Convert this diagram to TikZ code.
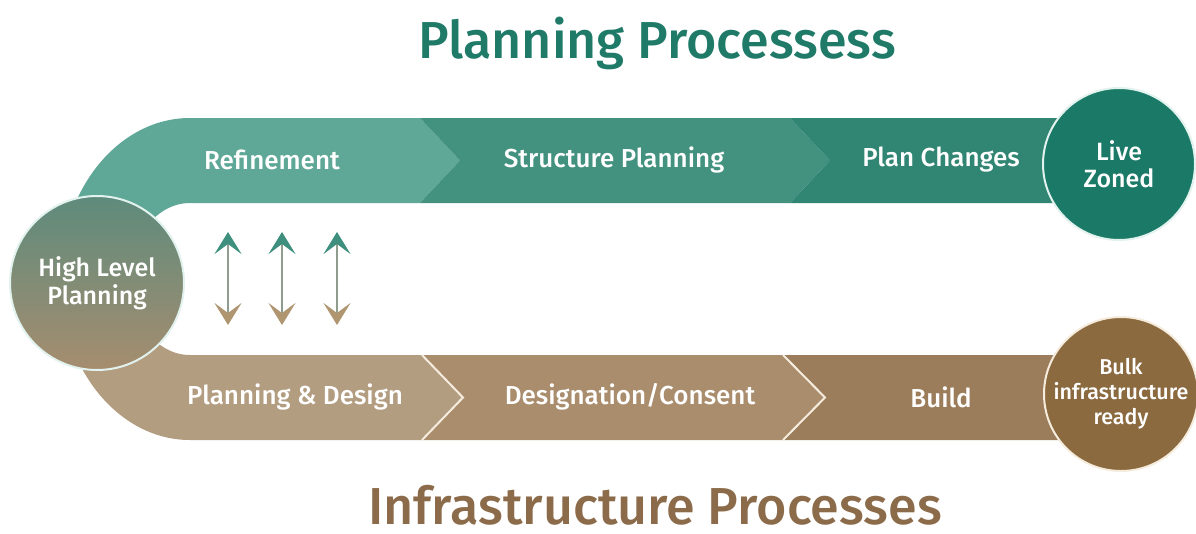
\documentclass[tikz,border=0pt]{standalone}
\usepackage{fontspec}
\setmainfont{Fira Sans}
\newfontfamily\medfont{Fira Sans Medium}
\usetikzlibrary{arrows.meta}

\definecolor{refcol}{HTML}{5FA897}
\definecolor{strcol}{HTML}{43917F}
\definecolor{plncol}{HTML}{318673}
\definecolor{livecol}{HTML}{1B7A67}
\definecolor{pdcol}{HTML}{B39D81}
\definecolor{dccol}{HTML}{A98D6D}
\definecolor{bldcol}{HTML}{9C7D5B}
\definecolor{bulkcol}{HTML}{8B6A40}
\definecolor{hltop}{HTML}{5E8B7C}
\definecolor{hlbot}{HTML}{A68D6F}
\definecolor{titleteal}{HTML}{1F7A68}
\definecolor{titlebrown}{HTML}{8B6B4A}
\definecolor{arrteal}{HTML}{3E8F7E}
\definecolor{arrtan}{HTML}{B09670}
\definecolor{shaftcol}{HTML}{909C8E}
\definecolor{cream}{HTML}{F6ECDD}
\definecolor{mint}{HTML}{E2F2EE}

\tikzset{
  lbl/.style={text=white, font=\medfont\fontsize{26}{30}\selectfont, inner sep=0pt},
  ttl/.style={font=\medfont\fontsize{52}{56}\selectfont, inner sep=0pt, anchor=base},
  disc/.style={circle, minimum size=#1, inner sep=0pt, align=center, line width=2pt},
  chevline/.style={draw=cream, line width=2pt},
  updown/.style={line width=2.5pt, draw=shaftcol,
    {Stealth[length=22pt, width=27pt, inset=10pt, color=arrteal]}-%
    {Stealth[length=22pt, width=27pt, inset=10pt, color=arrtan]}},
}

\begin{document}
\begin{tikzpicture}[x=1pt, y=-1pt]

  \useasboundingbox (0,0) rectangle (1196,533);

  % ----------------------------------------------------------------
  % Top band: Refinement, Structure Planning, Plan Changes
  % ----------------------------------------------------------------
  \fill[refcol] (420,118) -- (190,118)
    arc[start angle=270, end angle=180, x radius=130, y radius=161]
    -- (130,279) arc[start angle=180, end angle=270, x radius=60, y radius=76]
    -- (420,203) -- (460,160.5) -- cycle;
  \fill[strcol] (420,118) -- (460,160.5) -- (420,203)
    -- (790,203) -- (830,160.5) -- (790,118) -- cycle;
  \fill[plncol] (790,118) -- (830,160.5) -- (790,203)
    -- (1070,203) -- (1070,118) -- cycle;

  \node[lbl] (refine)  at (272,160) {Refinement};
  \node[lbl] (struct)  at (614,160) {Structure Planning};
  \node[lbl] (planchg) at (941,160) {Plan Changes};

  % ----------------------------------------------------------------
  % Bottom band: Planning & Design, Designation/Consent, Build
  % ----------------------------------------------------------------
  \fill[pdcol] (422,355) -- (190,355)
    arc[start angle=90, end angle=180, x radius=60, y radius=76]
    -- (60,279) arc[start angle=180, end angle=90, x radius=130, y radius=161]
    -- (422,440) -- (463,397.5) -- cycle;
  \fill[dccol] (422,355) -- (463,397.5) -- (422,440)
    -- (783,440) -- (825,397.5) -- (783,355) -- cycle;
  \fill[bldcol] (783,355) -- (825,397.5) -- (783,440)
    -- (1070,440) -- (1070,355) -- cycle;

  % chevron edges
  \draw[chevline] (422,355) -- (463,397.5) -- (422,440);
  \draw[chevline] (783,355) -- (825,397.5) -- (783,440);

  \node[lbl] (pdesign) at (295,397) {Planning \& Design};
  \node[lbl] (desig)   at (630,397) {Designation/Consent};
  \node[lbl] (build)   at (941,397) {Build};

  % ----------------------------------------------------------------
  % Circles
  % ----------------------------------------------------------------
  \node[disc=174, top color=hltop, bottom color=hlbot, draw=mint,
        lbl, font=\medfont\fontsize{25}{28}\selectfont] (high) at (97,283)
    {High Level\\Planning};
  \node[disc=152, fill=livecol, draw=mint, lbl,
        font=\medfont\fontsize{25}{27}\selectfont] (live) at (1119,164)
    {Live\\Zoned};
  \node[disc=154, fill=bulkcol, draw=cream, lbl,
        font=\medfont\fontsize{21.5}{25}\selectfont] (bulk) at (1121,394)
    {Bulk\\infrastructure\\ready};

  % ----------------------------------------------------------------
  % Links between the two processes
  % ----------------------------------------------------------------
  \foreach \x [count=\i] in {228,282,337} {
    \coordinate (up\i) at (\x,232);
    \coordinate (dn\i) at (\x,325);
    \draw[updown] (up\i) -- (dn\i);
  }

  % titles
  \node[ttl, text=titleteal]  (ptitle) at (657,58)  {Planning Processess};
  \node[ttl, text=titlebrown, text depth=0pt] (ititle) at (655,524)
    {Infrastructure Processes};

\end{tikzpicture}
\end{document}
